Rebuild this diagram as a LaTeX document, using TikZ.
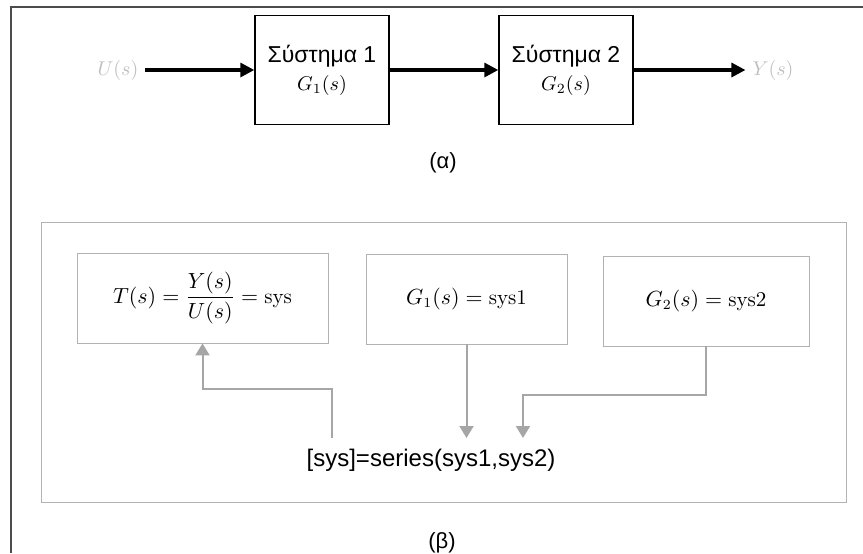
\documentclass[tikz,border=0pt]{standalone}
\usepackage{amsmath}
\usepackage{fontspec}
\newfontfamily\grk{Liberation Sans}
\usetikzlibrary{arrows.meta}

\begin{document}
\begin{tikzpicture}[x=0.5pt,y=-0.5pt,
    every node/.style={font=\fontsize{10}{12}\selectfont},
    block/.style={draw,line width=0.7pt,minimum width=67pt,minimum height=54.5pt,align=center,inner sep=0pt},
    signal/.style={line width=1.6pt,-{Triangle[length=7pt,width=7pt]}},
    io/.style={text=black!25},
    cmdbox/.style={draw=black!30,line width=0.4pt,minimum height=45pt,inner sep=0pt,font=\fontsize{10.5}{12}\selectfont},
    feed/.style={draw=black!35,line width=1pt,-{Triangle[length=6pt,width=7pt]}},
    caption/.style={font=\grk\fontsize{11}{13}\selectfont}]
  \useasboundingbox (0,0) rectangle (863,553);
  \draw[black!70,line width=0.6pt] (11,553) -- (11,7) -- (863,7);
  % (a) two systems in series
  \node[block] (sys1) at (322,70) {{\grk\fontsize{11.5}{13}\selectfont Σύστημα 1}\\[2pt]$G_1(s)$};
  \node[block] (sys2) at (566,70) {{\grk\fontsize{11.5}{13}\selectfont Σύστημα 2}\\[2pt]$G_2(s)$};
  \node[io] (u) at (118,70) {$U(s)$};
  \node[io] (y) at (773,70) {$Y(s)$};
  \draw[signal] (u) -- (sys1);
  \draw[signal] (sys1) -- (sys2);
  \draw[signal] (sys2) -- (y);
  \node[caption] (capa) at (443,163) {(α)};
  % (b) the same in commands
  \draw[black!30,line width=0.4pt] (41,222) rectangle (846,502);
  \node[cmdbox,minimum width=125.5pt] (tbox) at (202.5,298) {$T(s) = \dfrac{Y(s)}{U(s)} = \mathrm{sys}$};
  \node[cmdbox,minimum width=100.5pt] (g1box) at (466.5,299) {$G_1(s) = \mathrm{sys1}$};
  \node[cmdbox,minimum width=103pt] (g2box) at (706,301) {$G_2(s) = \mathrm{sys2}$};
  \node[font=\grk\fontsize{12}{14}\selectfont] (series) at (431,460) {[sys]=series(sys1,sys2)};
  \coordinate (tfoot) at (332,438);
  \coordinate (s1in) at (466.5,438);
  \coordinate (s2in) at (523,438);
  \draw[feed] (tfoot) |- (tbox.south |- 0,389) -- (tbox.south);
  \draw[feed] (g1box.south) -- (s1in);
  \draw[feed] (g2box.south) |- (s2in |- 0,395) -- (s2in);
  \node[caption] (capb) at (442,543) {(β)};
\end{tikzpicture}
\end{document}
